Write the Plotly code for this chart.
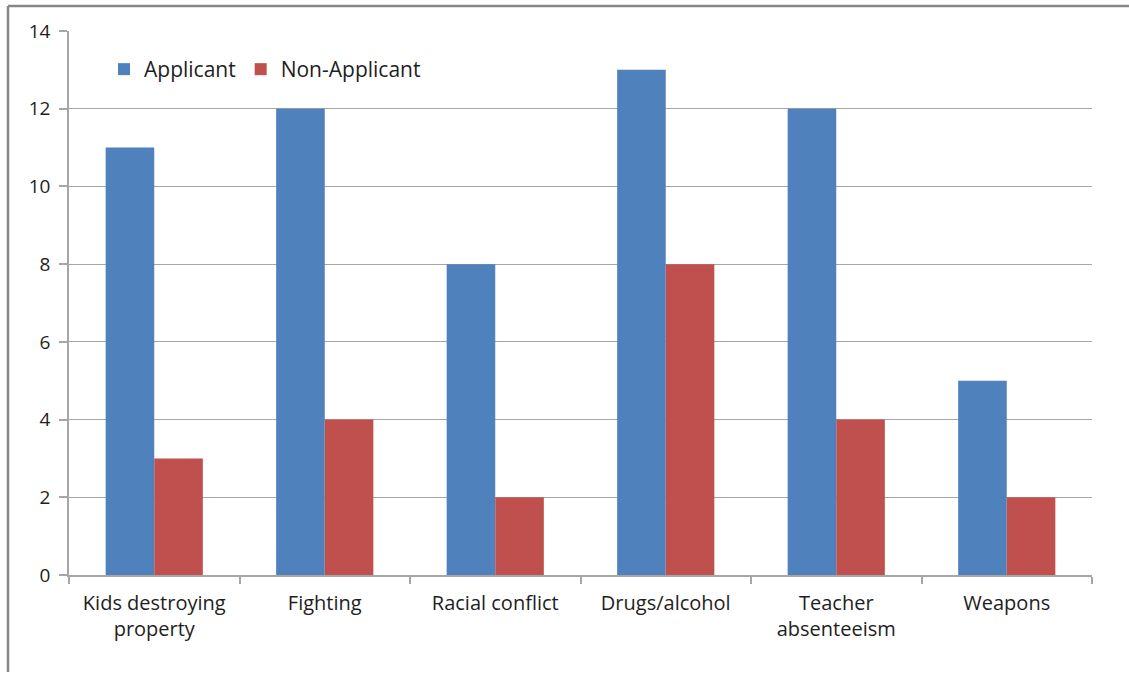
import plotly.graph_objects as go

categories = ["Kids destroying<br>property", "Fighting", "Racial conflict",
              "Drugs/alcohol", "Teacher<br>absenteeism", "Weapons"]
applicant = [11, 12, 8, 13, 12, 5]
non_applicant = [3, 4, 2, 8, 4, 2]

W, H = 1129, 675
L, R, T, B = 69, 1092, 31, 575

fig = go.Figure()
fig.add_trace(go.Bar(x=categories, y=applicant, name="Applicant",
                     marker=dict(color="#4F81BD", line=dict(width=0))))
fig.add_trace(go.Bar(x=categories, y=non_applicant, name="Non-Applicant",
                     marker=dict(color="#C0504D", line=dict(width=0))))

def px_x(p):
    return (p - L) / (R - L)

def px_y(p):
    return (B - p) / (B - T)

font_family = "Open Sans, Liberation Sans, sans-serif"

fig.update_layout(
    width=W, height=H,
    margin=dict(l=L, r=W - R, t=T, b=H - B),
    plot_bgcolor="white", paper_bgcolor="white",
    barmode="group", bargap=0.43, bargroupgap=0,
    font=dict(family=font_family, size=19, color="#1E1E1E"),
    legend=dict(orientation="h", x=px_x(104), y=px_y(49), xanchor="left", yanchor="top",
                bgcolor="rgba(0,0,0,0)", font=dict(size=21), itemwidth=30,
                traceorder="normal"),
    xaxis=dict(showline=True, linecolor="#A6A6A6", linewidth=1.5,
               ticks="outside", ticklen=7, tickcolor="#A6A6A6", tickwidth=1.5,
               tickson="boundaries", showgrid=False, tickfont=dict(size=20),
               ticklabelstandoff=9, fixedrange=True),
    yaxis=dict(range=[0, 14], dtick=2, showline=True, linecolor="#A6A6A6", linewidth=1.5,
               ticks="outside", ticklen=8, tickcolor="#A6A6A6", tickwidth=1.5,
               showgrid=True, gridcolor="#A6A6A6", gridwidth=1.2, zeroline=False,
               tickfont=dict(size=19), ticklabelstandoff=5, fixedrange=True),
    shapes=[
        dict(type="line", xref="paper", yref="paper",
             x0=px_x(8), x1=px_x(1129), y0=px_y(6), y1=px_y(6),
             line=dict(color="#868686", width=2.5)),
        dict(type="line", xref="paper", yref="paper",
             x0=px_x(8), x1=px_x(8), y0=px_y(6), y1=px_y(672),
             line=dict(color="#868686", width=2.5)),
    ],
)

fig.write_html("out.html")
